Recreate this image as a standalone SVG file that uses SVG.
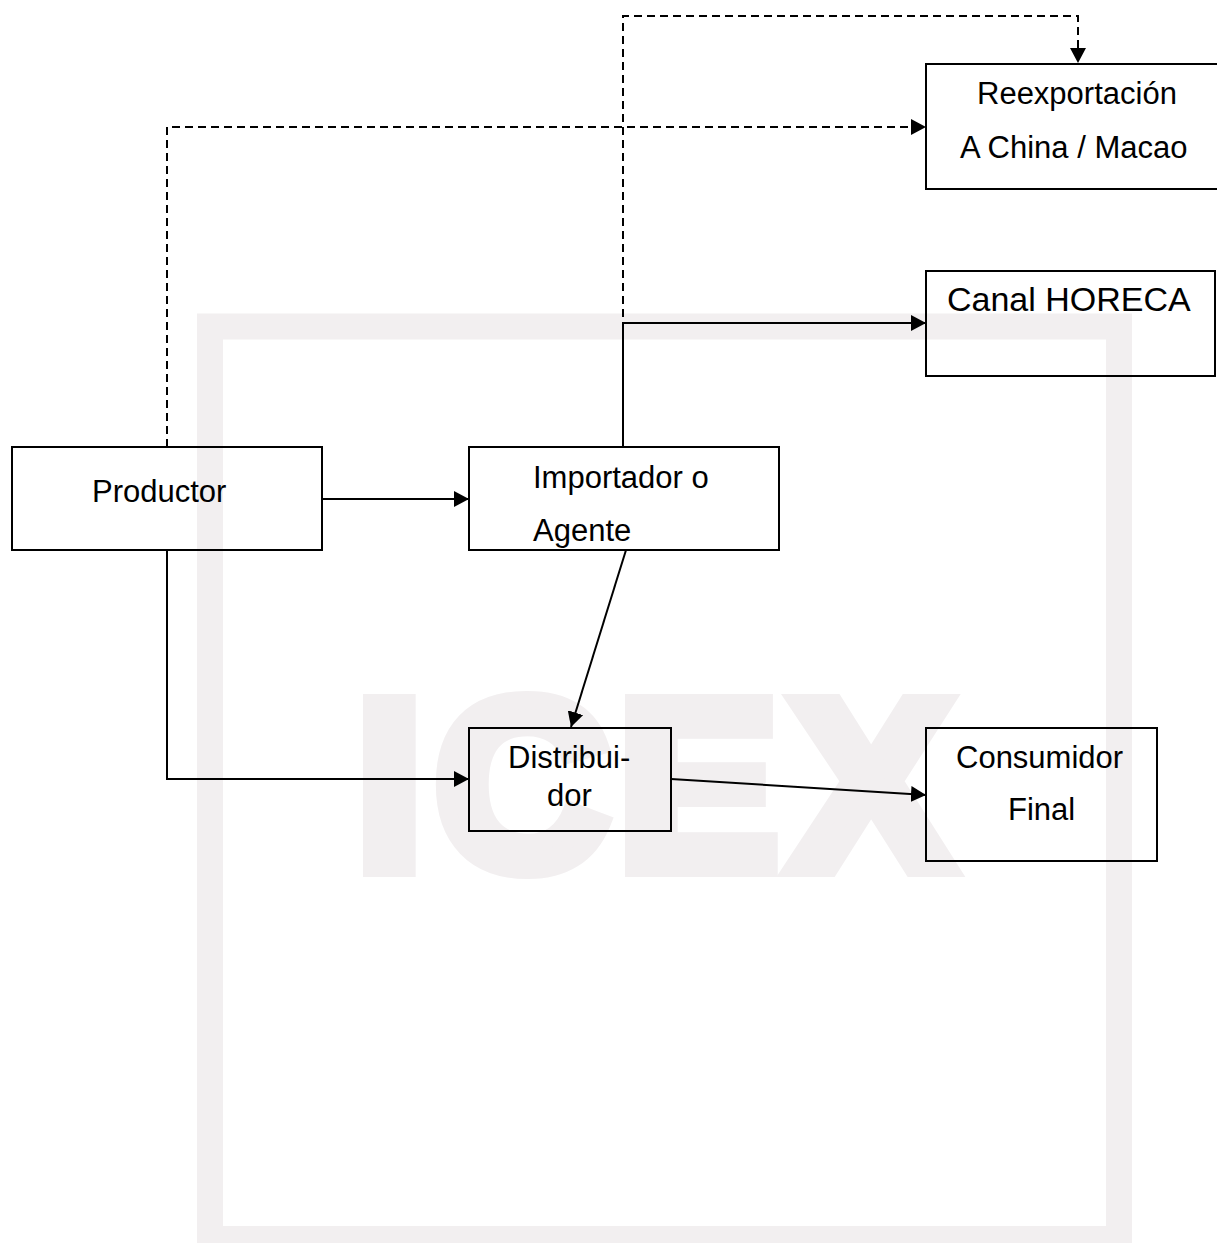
<svg xmlns="http://www.w3.org/2000/svg" width="1217" height="1243" viewBox="0 0 1217 1243">
  <style>
    .box { fill: none; stroke: #000000; stroke-width: 2; }
    .lbl { font-family: "Liberation Sans", Arial, sans-serif; font-size: 31px; fill: #000000; }
    .big { font-size: 34px; }
    .line { fill: none; stroke: #000000; stroke-width: 2; }
    .dash { stroke-dasharray: 8 5; }
  </style>
  <defs>
    <marker id="arrow" markerUnits="userSpaceOnUse" markerWidth="16" markerHeight="16" refX="15" refY="8" orient="auto">
      <path d="M0,0 L15,8 L0,16 Z" fill="#000000"/>
    </marker>
  </defs>

  <rect x="0" y="0" width="1217" height="1243" fill="#ffffff"/>

  <!-- watermark -->
  <g id="watermark">
    <rect x="210" y="326.5" width="909" height="912.5" fill="none" stroke="#f2eff0" stroke-width="26"/>
    <text x="356 435 618 791" y="868" font-family="'Liberation Sans', Arial, sans-serif" font-weight="bold" font-size="240" fill="#f2eff0" stroke="#f2eff0" stroke-width="18" stroke-linejoin="miter">ICEX</text>
  </g>

  <!-- connectors -->
  <g id="connectors">
    <!-- Productor -> Importador -->
    <path class="line" d="M322,499 L469,499" marker-end="url(#arrow)"/>
    <!-- Productor -> Distribuidor -->
    <path class="line" d="M167,550 L167,779 L469,779" marker-end="url(#arrow)"/>
    <!-- Importador -> Distribuidor -->
    <path class="line" d="M626,550 L571,727" marker-end="url(#arrow)"/>
    <!-- Distribuidor -> Consumidor -->
    <path class="line" d="M671,779 L926,795" marker-end="url(#arrow)"/>
    <!-- Importador -> Canal HORECA -->
    <path class="line" d="M623,447 L623,323 L926,323" marker-end="url(#arrow)"/>
    <!-- Importador -> Reexportacion (dashed) -->
    <path class="line dash" d="M623,447 L623,16 L1078,16 L1078,63" marker-end="url(#arrow)"/>
    <!-- Productor -> Reexportacion (dashed) -->
    <path class="line dash" d="M167,447 L167,127 L926,127" marker-end="url(#arrow)"/>
  </g>

  <g id="node-reexportacion">
    <rect class="box" x="926" y="64" width="300" height="125"/>
    <text class="lbl" x="977" y="104">Reexportación</text>
    <text class="lbl" x="960" y="158">A China / Macao</text>
  </g>

  <g id="node-horeca">
    <rect class="box" x="926" y="271" width="289" height="105"/>
    <text class="lbl big" x="947" y="311">Canal HORECA</text>
  </g>

  <g id="node-productor">
    <rect class="box" x="12" y="447" width="310" height="103"/>
    <text class="lbl" x="92" y="502">Productor</text>
  </g>

  <g id="node-importador">
    <rect class="box" x="469" y="447" width="310" height="103"/>
    <text class="lbl" x="533" y="488">Importador o</text>
    <text class="lbl" x="533" y="541">Agente</text>
  </g>

  <g id="node-distribuidor">
    <rect class="box" x="469" y="728" width="202" height="103"/>
    <text class="lbl" x="508" y="768">Distribui-</text>
    <text class="lbl" x="547" y="806">dor</text>
  </g>

  <g id="node-consumidor">
    <rect class="box" x="926" y="728" width="231" height="133"/>
    <text class="lbl" x="956" y="768">Consumidor</text>
    <text class="lbl" x="1008" y="820">Final</text>
  </g>
</svg>
